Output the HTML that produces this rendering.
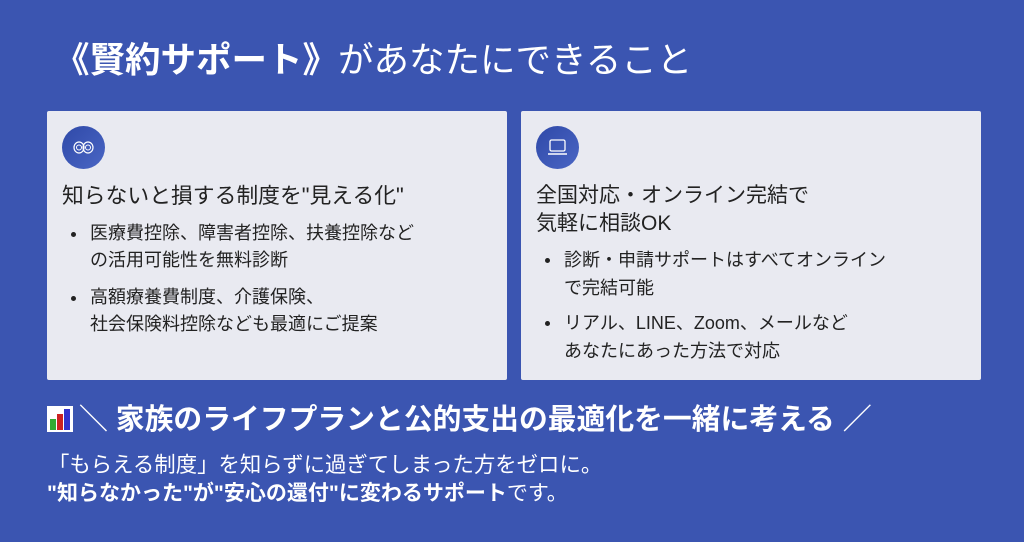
<!DOCTYPE html>
<html><head><meta charset="utf-8"><style>
*{margin:0;padding:0;box-sizing:border-box}
body{width:1024px;height:542px;background:#3b55b1;font-family:"Liberation Sans","Noto Sans CJK JP",sans-serif;position:relative;overflow:hidden;color:#222}
.a{position:absolute;white-space:nowrap}
.card{position:absolute;top:111px;width:460px;height:269px;background:#e9eaf1;border-radius:2px}
.ic{position:absolute;left:15px;top:15px;width:43px;height:43px;border-radius:50%;background:linear-gradient(135deg,#2f49a8,#4a66c4);}
.h{position:absolute;left:15px;font-size:21px;line-height:28px;color:#222}
ul{position:absolute;left:22px;font-size:18px;line-height:27px;list-style:none;color:#222;white-space:nowrap}
li{position:relative;padding-left:21px;margin-bottom:10px}
li:before{content:"";position:absolute;left:2px;top:12px;width:5px;height:5px;border-radius:50%;background:#222}
.w{color:#fff}
</style></head><body>
<div class="a w" style="left:54px;top:38px;font-size:35.5px;line-height:44px"><b>《賢約サポート》</b>があなたにできること</div>
<div class="card" style="left:47px">
<div class="ic"><svg width="43" height="43"><ellipse cx="17" cy="21.5" rx="5" ry="5.5" fill="none" stroke="#fff" stroke-width="1.2"/><ellipse cx="26" cy="21.5" rx="5" ry="5.5" fill="none" stroke="#fff" stroke-width="1.2"/><circle cx="17" cy="21.5" r="2.5" fill="none" stroke="#fff"/><circle cx="26" cy="21.5" r="2.5" fill="none" stroke="#fff"/></svg></div>
<div class="h" style="top:71px;font-size:21.8px">知らないと損する制度を"見える化"</div>
<ul style="top:109px"><li>医療費控除、障害者控除、扶養控除など<br>の活用可能性を無料診断</li><li>高額療養費制度、介護保険、<br>社会保険料控除なども最適にご提案</li></ul>
</div>
<div class="card" style="left:521px">
<div class="ic"><svg width="43" height="43"><rect x="14" y="14" width="15" height="11" rx="1.5" fill="none" stroke="#fff" stroke-width="1.3"/><path d="M12 28h19" stroke="#fff" stroke-width="1.5"/></svg></div>
<div class="h" style="top:71px">全国対応・オンライン完結で<br>気軽に相談OK</div>
<ul style="top:135px;line-height:28px"><li style="margin-bottom:7px">診断・申請サポートはすべてオンライン<br>で完結可能</li><li>リアル、LINE、Zoom、メールなど<br>あなたにあった方法で対応</li></ul>
</div>
<div class="a w" style="left:47px;top:402px;font-size:28.8px;line-height:36px;font-weight:bold"><span style="display:inline-block;width:26px;height:26px;background:#fff;vertical-align:-3px;position:relative;margin-right:6px"><i style="position:absolute;left:3px;bottom:2px;width:6px;height:11px;background:#3a3"></i><i style="position:absolute;left:10px;bottom:2px;width:6px;height:16px;background:#c22"></i><i style="position:absolute;left:17px;bottom:2px;width:6px;height:21px;background:#33c"></i></span>＼ 家族のライフプランと公的支出の最適化を一緒に考える ／</div>
<div class="a w" style="left:48px;top:451px;font-size:21.4px;line-height:28px">「もらえる制度」を知らずに過ぎてしまった方をゼロに。</div>
<div class="a w" style="left:47px;top:480px;font-size:21px;line-height:28px"><b>"知らなかった"が"安心の還付"に変わるサポート</b>です。</div>
</body></html>
